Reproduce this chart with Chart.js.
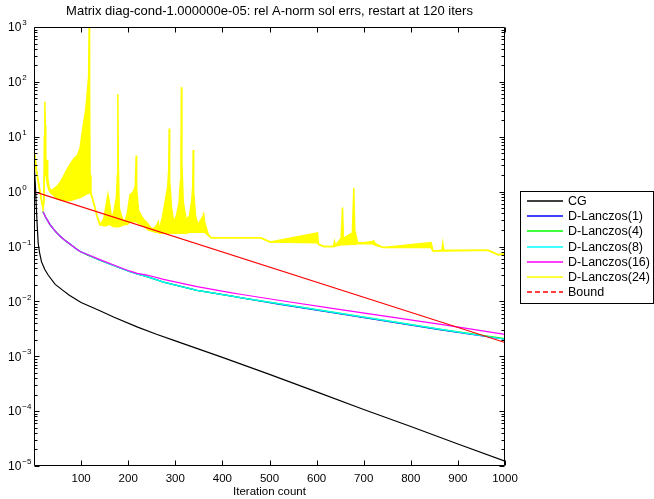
<!DOCTYPE html>
<html>
<head>
<meta charset="utf-8">
<script src="https://cdn.jsdelivr.net/npm/chart.js@4.4.1/dist/chart.umd.min.js"></script>
<style>
  html, body { margin: 0; padding: 0; background: #fff; }
  #wrap { width: 654px; height: 499px; }
</style>
</head>
<body>
<div id="wrap"><canvas id="chart" width="654" height="499"></canvas></div>
<script>
const titleText = "Matrix diag-cond-1.000000e-05: rel A-norm sol errs, restart at 120 iters";
const xLabel = "Iteration count";
const xTicks = [100, 200, 300, 400, 500, 600, 700, 800, 900, 1000];
const yTickExps = [-5, -4, -3, -2, -1, 0, 1, 2, 3];
const seriesNames = ["CG", "D-Lanczos(1)", "D-Lanczos(4)", "D-Lanczos(8)", "D-Lanczos(16)", "D-Lanczos(24)", "Bound"];
const seriesColors = ["#000000", "#0000ff", "#00ff00", "#00ffff", "#ff00ff", "#ffff00", "#ff0000"];

// all error values below are stored as log10(error)
const cgIters = [1, 3, 5, 7, 9, 12, 16, 23, 30, 45, 60, 75, 100, 140, 170, 220, 260, 300, 350, 400, 500, 600, 700, 800, 900, 1000];
const cgLog = [0.4, 0.1, -0.3, -0.65, -0.95, -1.12, -1.28, -1.42, -1.52, -1.69, -1.79, -1.89, -2.02, -2.17, -2.29, -2.47, -2.6, -2.72, -2.87, -3.02, -3.33, -3.65, -3.97, -4.28, -4.6, -4.91];

const lanczosIters = [19, 25, 34, 45, 55, 66, 77, 88, 98, 115, 140, 176, 204, 219, 240, 275, 346, 417, 438, 519, 651, 864, 1000];
const lanczos1Log = [-0.36, -0.47, -0.6, -0.72, -0.81, -0.89, -0.96, -1.03, -1.09, -1.16, -1.25, -1.37, -1.46, -1.5, -1.55, -1.65, -1.8, -1.9, -1.93, -2.05, -2.23, -2.52, -2.69];
const lanczos4Log = [-0.36, -0.47, -0.6, -0.72, -0.81, -0.89, -0.96, -1.03, -1.09, -1.16, -1.25, -1.37, -1.46, -1.5, -1.55, -1.65, -1.8, -1.9, -1.93, -2.04, -2.22, -2.51, -2.68];
const lanczos8Log = [-0.36, -0.47, -0.6, -0.72, -0.81, -0.89, -0.96, -1.03, -1.09, -1.15, -1.25, -1.37, -1.46, -1.5, -1.55, -1.65, -1.8, -1.9, -1.93, -2.04, -2.22, -2.51, -2.69];
const lanczos16Log = [-0.36, -0.47, -0.6, -0.72, -0.81, -0.89, -0.96, -1.03, -1.09, -1.15, -1.24, -1.36, -1.45, -1.49, -1.52, -1.6, -1.73, -1.84, -1.87, -1.98, -2.15, -2.42, -2.6];

// D-Lanczos(24) oscillates fast, kept as upper / lower envelope
const lanczos24Iters = [
  1, 3, 5, 10, 15, 19, 21, 22, 23, 24,
  25, 27, 28, 29, 32, 36, 42, 49, 55, 62,
  70, 77, 83, 92, 98, 104, 110, 113, 116, 117,
  118, 119, 121, 123, 128, 134, 140, 148, 154, 157,
  160, 165, 170, 175, 177, 178, 179, 181, 186, 192,
  198, 204, 210, 215, 217, 218, 222, 232, 243, 250,
  258, 264, 266, 273, 279, 284, 286, 287, 288, 292,
  297, 302, 308, 311, 312, 313, 314, 317, 323, 330,
  335, 337, 338, 339, 343, 348, 355, 359, 360, 362,
  370, 376, 481, 502, 602, 604, 615, 636, 638, 640,
  652, 655, 657, 676, 679, 681, 687, 700, 718, 721,
  725, 736, 743, 843, 847, 866, 868, 870, 964, 985,
  1000
];
const lanczos24HighLog = [
  0.71, 0.6, 0.42, 0.15, -0.1, -0.3, -0.15, 1.0, 1.64, 1.2,
  0.45, 0.3, 0.58, 0.25, 0.08, 0.02, 0.05, 0.1, 0.16, 0.27,
  0.4, 0.5, 0.58, 0.66, 0.8, 1.18, 1.5, 1.8, 2.1, 3.0,
  1.9, 0.3, -0.05, -0.09, -0.25, -0.45, -0.6, -0.5, -0.2, -0.05,
  -0.2, -0.5, -0.35, -0.1, 0.3, 1.78, 0.5, -0.3, -0.45, -0.58,
  -0.4, -0.05, -0.02, 0.1, 0.66, 0.05, -0.35, -0.5, -0.6, -0.68,
  -0.65, -0.55, -0.7, -0.45, -0.15, 0.1, 0.4, 1.15, 0.2, -0.3,
  -0.55, -0.45, -0.2, 0.2, 0.6, 1.9, 0.5, -0.2, -0.5, -0.45,
  -0.15, 0.1, 0.76, 0.0, -0.45, -0.6, -0.5, -0.45, -0.38, -0.55,
  -0.78, -0.84, -0.84, -0.92, -0.75, -0.96, -1.0, -1.0, -0.91, -0.98,
  -0.85, -0.29, -0.85, -0.75, 0.07, -0.7, -0.93, -0.93, -0.91, -0.9,
  -0.95, -1.0, -1.02, -0.93, -1.08, -1.07, -0.94, -1.07, -1.07, -1.15,
  -1.13
];
const lanczos24LowLog = [
  0.45, 0.45, 0.38, 0.12, -0.12, -0.3, -0.2, 0.3, 0.4, 0.4,
  0.35, 0.2, 0.15, 0.1, 0.02, -0.03, -0.07, -0.13, -0.15, -0.16,
  -0.16, -0.16, -0.15, -0.12, -0.11, -0.08, -0.05, -0.04, -0.03, -0.02,
  -0.02, -0.02, -0.05, -0.09, -0.25, -0.45, -0.6, -0.62, -0.62, -0.6,
  -0.6, -0.62, -0.64, -0.64, -0.64, -0.64, -0.64, -0.64, -0.62, -0.6,
  -0.6, -0.55, -0.55, -0.55, -0.55, -0.55, -0.58, -0.62, -0.7, -0.72,
  -0.74, -0.74, -0.76, -0.76, -0.76, -0.76, -0.76, -0.76, -0.76, -0.76,
  -0.76, -0.76, -0.76, -0.76, -0.76, -0.76, -0.76, -0.76, -0.76, -0.74,
  -0.74, -0.74, -0.74, -0.74, -0.74, -0.74, -0.74, -0.74, -0.74, -0.74,
  -0.8, -0.84, -0.84, -0.92, -0.93, -0.96, -1.0, -1.0, -1.0, -0.99,
  -0.97, -0.97, -0.97, -0.96, -0.96, -0.96, -0.95, -0.95, -0.95, -0.96,
  -0.98, -1.0, -1.02, -1.02, -1.08, -1.08, -1.08, -1.08, -1.07, -1.15,
  -1.13
];

const boundIters = [0, 1000];
const boundLog = [0, -2.75];

const FONT = "'Liberation Sans', Arial, Helvetica, sans-serif";

function toPoints(iters, logs) {
  return iters.map((it, i) => ({ x: it, y: Math.pow(10, logs[i]) }));
}

function line(label, iters, logs, color, order) {
  return {
    label: label,
    data: toPoints(iters, logs),
    borderColor: color,
    backgroundColor: color,
    borderWidth: 1.2,
    pointRadius: 0,
    tension: 0,
    fill: false,
    order: order
  };
}

const datasets = [
  line(seriesNames[0], cgIters, cgLog, seriesColors[0], 6),
  line(seriesNames[1], lanczosIters, lanczos1Log, seriesColors[1], 5),
  line(seriesNames[2], lanczosIters, lanczos4Log, seriesColors[2], 4),
  line(seriesNames[3], lanczosIters, lanczos8Log, seriesColors[3], 3),
  line(seriesNames[4], lanczosIters, lanczos16Log, seriesColors[4], 2),
  line(seriesNames[5], lanczos24Iters, lanczos24HighLog, seriesColors[5], 1),
  line(seriesNames[6], boundIters, boundLog, seriesColors[6], 0),
  line("", lanczos24Iters, lanczos24LowLog, seriesColors[5], 1)
];
datasets[5].fill = 7;
datasets[5].borderWidth = 1.5;
datasets[7].borderWidth = 1.5;

// box round the plot with MATLAB style inward ticks, and 10^n labels
const axesBox = {
  id: "axesBox",
  afterDatasetsDraw(chart) {
    const { ctx, chartArea: a, scales } = chart;
    const x = scales.x, y = scales.y;
    const L = Math.round(a.left) + 0.5, R = Math.round(a.right) - 0.5;
    const T = Math.round(a.top) + 0.5, B = Math.round(a.bottom) - 0.5;
    ctx.save();
    ctx.strokeStyle = "#000";
    ctx.lineWidth = 1;
    ctx.beginPath();
    ctx.rect(L, T, R - L, B - T);
    xTicks.forEach(v => {
      const px = Math.round(x.getPixelForValue(v)) + 0.5;
      ctx.moveTo(px, B); ctx.lineTo(px, B - 5);
      ctx.moveTo(px, T); ctx.lineTo(px, T + 5);
    });
    yTickExps.forEach(e => {
      for (let m = 1; m < 10; m++) {
        const v = m * Math.pow(10, e);
        if (v > y.max * 1.0001) break;
        const py = Math.round(y.getPixelForValue(v)) + 0.5;
        const len = m === 1 ? 5 : 3;
        ctx.moveTo(L, py); ctx.lineTo(L + len, py);
        ctx.moveTo(R, py); ctx.lineTo(R - len, py);
      }
    });
    ctx.stroke();

    ctx.fillStyle = "#000";
    ctx.textAlign = "left";
    ctx.textBaseline = "middle";
    yTickExps.forEach(e => {
      const py = y.getPixelForValue(Math.pow(10, e));
      const x0 = a.left - 26;
      ctx.font = "12px " + FONT;
      ctx.fillText("10", x0, py + 1);
      const w = ctx.measureText("10").width;
      ctx.font = "8px " + FONT;
      ctx.fillText(e < 0 ? "\u2212" + (-e) : String(e), x0 + w + 1, py - 4);
    });
    ctx.restore();
  }
};

// framed legend to the right of the plot
const boxLegend = {
  id: "boxLegend",
  afterDraw(chart) {
    const { ctx, chartArea: a } = chart;
    const rowH = 15.2;
    const w = 133, h = 112;
    const left = Math.round(a.right) + 15;
    const top = Math.round((a.top + a.bottom) / 2 - h / 2);
    ctx.save();
    ctx.fillStyle = "#fff";
    ctx.fillRect(left, top, w, h);
    ctx.strokeStyle = "#000";
    ctx.lineWidth = 1;
    ctx.strokeRect(left + 0.5, top + 0.5, w, h);
    ctx.font = "12.5px " + FONT;
    ctx.textBaseline = "middle";
    ctx.textAlign = "left";
    seriesNames.forEach((name, i) => {
      const cy = Math.round(top + 10 + i * rowH);
      ctx.strokeStyle = seriesColors[i];
      ctx.lineWidth = 1.6;
      ctx.setLineDash(name === "Bound" ? [5, 3] : []);
      ctx.beginPath();
      ctx.moveTo(left + 7, cy);
      ctx.lineTo(left + 43, cy);
      ctx.stroke();
      ctx.setLineDash([]);
      ctx.fillStyle = "#000";
      ctx.fillText(name, left + 48, cy + 0.5);
    });
    ctx.restore();
  }
};

new Chart(document.getElementById("chart"), {
  type: "line",
  data: { datasets: datasets },
  plugins: [axesBox, boxLegend],
  options: {
    responsive: false,
    animation: false,
    devicePixelRatio: 1,
    layout: { padding: { left: 0, right: 149, top: 0, bottom: 0 } },
    plugins: {
      legend: { display: false },
      tooltip: { enabled: false },
      title: {
        display: true,
        text: titleText,
        fullSize: false,
        color: "#000",
        font: { family: FONT, size: 13, weight: "normal", lineHeight: 1.2 },
        padding: { top: 4, bottom: 7.4 }
      }
    },
    scales: {
      x: {
        type: "linear",
        min: 0,
        max: 1000,
        afterBuildTicks: axis => { axis.ticks = xTicks.map(v => ({ value: v })); },
        afterFit: axis => { axis.height = 33; },
        grid: { display: false, drawTicks: false },
        border: { display: false },
        ticks: {
          color: "#000",
          font: { family: FONT, size: 11.5 },
          padding: 6,
          maxRotation: 0,
          callback: v => String(v)
        },
        title: {
          display: true,
          text: xLabel,
          color: "#000",
          font: { family: FONT, size: 11.5 },
          padding: { top: 0, bottom: 0 }
        }
      },
      y: {
        type: "logarithmic",
        min: 1e-5,
        max: 1e3,
        afterBuildTicks: axis => { axis.ticks = yTickExps.map(e => ({ value: Math.pow(10, e) })); },
        afterFit: axis => { axis.width = 34; },
        grid: { display: false, drawTicks: false },
        border: { display: false },
        ticks: { display: false }
      }
    }
  }
});
</script>
</body>
</html>
